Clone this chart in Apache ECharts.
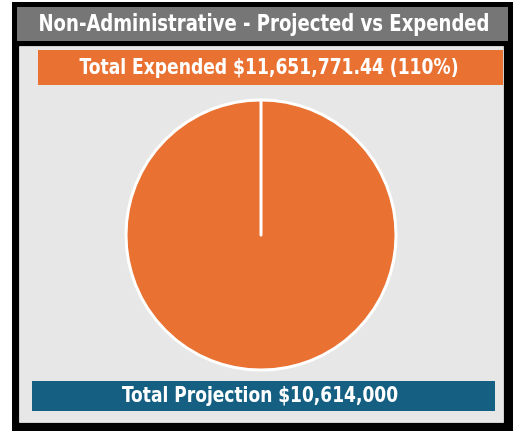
<!DOCTYPE html>
<html>
<head>
<meta charset="utf-8">
<script src="https://cdn.jsdelivr.net/npm/echarts@6/dist/echarts.min.js"></script>
<style>
  html, body { margin: 0; padding: 0; background: #ffffff; }
  #chart { width: 528px; height: 431px; }
</style>
</head>
<body>
<div id="chart"></div>
<script>
// Budget figures for the non-administrative line
const chartTitle = 'Non-Administrative - Projected vs Expended';
const sliceNames = ['Expended', 'Remaining'];
const totalExpended = 11651771.44;
const totalProjection = 10614000;

const remaining = Math.max(totalProjection - totalExpended, 0);
const sliceValues = [totalExpended, remaining];

function money(v, decimals) {
  return '$' + v.toLocaleString('en-US', { minimumFractionDigits: decimals, maximumFractionDigits: decimals });
}
const pct = Math.round(totalExpended / totalProjection * 100);
const expendedText = 'Total Expended ' + money(totalExpended, 2) + ' (' + pct + '%)';
const projectionText = 'Total Projection ' + money(totalProjection, 0);

const FONT = '"Liberation Sans Narrow", "DejaVu Sans Condensed", "Liberation Sans", sans-serif';

// condensed headline text: squeeze horizontally to a set width
const measureCtx = document.createElement('canvas').getContext('2d');
function headline(text, size, cx, cy, width) {
  const font = 'bold ' + size + 'px ' + FONT;
  measureCtx.font = font;
  const w = measureCtx.measureText(text).width;
  return {
    type: 'text', x: cx, y: cy, z: 3,
    scaleX: width / w,
    style: { text: text, fill: '#ffffff', font: font, align: 'center', verticalAlign: 'middle' }
  };
}

const chart = echarts.init(document.getElementById('chart'), null, { renderer: 'canvas' });

chart.setOption({
  backgroundColor: '#ffffff',
  animation: false,
  graphic: [
    // frame
    { type: 'rect', shape: { x: 12, y: 2, width: 501, height: 429 }, style: { fill: '#000000' }, z: 0 },
    // title bar
    { type: 'rect', shape: { x: 17, y: 7, width: 491, height: 34 }, style: { fill: '#767676' }, z: 1 },
    // chart panel
    { type: 'rect', shape: { x: 19.5, y: 46.5, width: 484, height: 376 }, style: { fill: '#e7e7e7', stroke: '#cfcfcf', lineWidth: 1 }, z: 1 },
    // expended banner
    { type: 'rect', shape: { x: 38, y: 50, width: 465, height: 35 }, style: { fill: '#e97132' }, z: 2 },
    // projection banner
    { type: 'rect', shape: { x: 32, y: 381, width: 463, height: 30 }, style: { fill: '#156082' }, z: 2 },
    headline(chartTitle, 23, 264, 25, 451),
    headline(expendedText, 21.5, 269, 68.5, 379),
    headline(projectionText, 21.5, 260, 396.5, 276)
  ],
  series: [{
    type: 'pie',
    center: [261, 235],
    radius: 135,
    startAngle: 90,
    clockwise: true,
    minAngle: 0,
    stillShowZeroSum: true,
    avoidLabelOverlap: false,
    label: { show: false },
    labelLine: { show: false },
    emphasis: { disabled: true },
    itemStyle: { borderColor: '#ffffff', borderWidth: 3 },
    color: ['#e97132', '#156082'],
    z: 5,
    data: sliceNames.map((n, i) => ({ name: n, value: sliceValues[i] }))
  }]
});
</script>
</body>
</html>
